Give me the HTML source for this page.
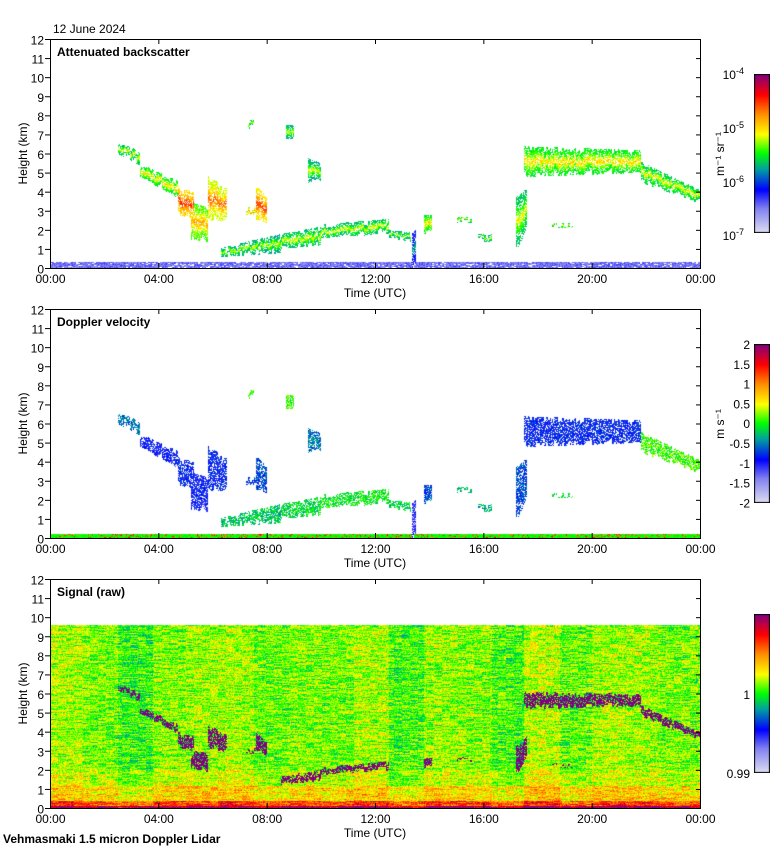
<!DOCTYPE html>
<html><head><meta charset="utf-8">
<style>
body{margin:0;background:#fff;}
#root{position:relative;width:780px;height:850px;background:#fff;font-family:"Liberation Sans",sans-serif;}
canvas{position:absolute;}
svg{position:absolute;left:0;top:0;}
text{font-family:"Liberation Sans",sans-serif;font-size:12px;fill:#000;}
</style></head>
<body>
<div id="root">
<canvas id="c1" width="650" height="229" style="left:50px;top:39px"></canvas>
<canvas id="c2" width="650" height="229" style="left:50px;top:309px"></canvas>
<canvas id="c3" width="650" height="229" style="left:50px;top:579px"></canvas>
<canvas id="cb1" width="16" height="159" style="left:754px;top:74px"></canvas>
<canvas id="cb2" width="16" height="159" style="left:754px;top:344px"></canvas>
<canvas id="cb3" width="16" height="159" style="left:754px;top:614px"></canvas>
<svg id="ax" width="780" height="850"></svg>
</div>
<script>
// ---- data ----
const timeTicks=["00:00","04:00","08:00","12:00","16:00","20:00","00:00"];
const heightTicks=[0,1,2,3,4,5,6,7,8,9,10,11,12];
const cloudT0=[2.5,3.3,4.7,5.2,5.8,7.2,7.6,6.3,8.5,10,12.5,13.8,15,15.8,17.2,17.5,21.8,18.5,9.5,8.7,7.3,13.35];
const cloudT1=[3.3,4.7,5.3,5.8,6.5,7.6,8.0,8.5,10,12.5,13.3,14.1,15.6,16.3,17.6,21.8,24,19.3,10.0,9.0,7.5,13.5];
const cloudBase0=[6.0,4.8,2.8,1.5,2.5,2.8,2.4,0.6,1.0,1.6,1.6,1.8,2.4,1.4,0.9,4.8,4.5,2.1,4.5,6.8,7.3,0];
const cloudTop0=[6.6,5.5,4.3,3.5,4.9,3.2,4.3,1.1,1.8,2.3,2.0,2.8,2.7,1.8,3.8,6.4,5.6,2.4,5.8,7.6,7.8,2.0];
const cloudBase1=[5.4,3.7,2.6,1.4,2.5,2.8,2.4,0.8,1.2,1.8,1.4,1.8,2.4,1.4,2.0,5.0,3.4,2.1,4.6,6.8,7.3,0];
const cloudTop1=[6.2,4.6,4.0,3.2,4.2,3.2,3.8,1.8,2.2,2.6,1.9,2.8,2.7,1.8,4.2,6.2,4.1,2.4,5.5,7.6,7.8,2.0];
const cloudBsc=[0.5,0.55,0.72,0.6,0.66,0.65,0.7,0.48,0.5,0.5,0.48,0.55,0.5,0.48,0.5,0.55,0.52,0.5,0.48,0.48,0.48,0.3];
const cloudVel=[-0.8,-1.3,-1.2,-1.3,-1.2,-1,-1,-0.4,-0.3,-0.2,-0.3,-1,-0.5,-0.5,-1,-1.2,0,-0.3,-0.8,0,0,-1.5];
const signalBlockStart=[0,1.2,2.5,3.8,5,6.2,7.5,8.8,10,11.2,12.5,13.8,15,16.3,17.5,18.8,20,21.2,22.5];
const signalBlockLevel=[0.03,0,-0.04,0.01,0.02,0.03,-0.01,0.01,0,0.03,-0.03,0.02,0.01,-0.03,0.04,-0.01,0.03,0.02,0];
const signalTopKm=9.6;
// ---- helpers ----
const W=650,H=229;
const xS=t=>t/24*W, yS=h=>H-h/12*H;
const stops=[[0,[220,220,240]],[0.15,[130,130,240]],[0.27,[0,0,255]],[0.4,[0,160,160]],[0.5,[0,255,0]],[0.62,[255,255,0]],[0.75,[255,140,0]],[0.87,[255,0,0]],[1,[128,0,128]]];
function cmap(v){v=Math.max(0,Math.min(1,v));for(let i=1;i<stops.length;i++){if(v<=stops[i][0]){const a=stops[i-1],b=stops[i],f=(v-a[0])/(b[0]-a[0]);return a[1].map((c,k)=>Math.round(c+(b[1][k]-c)*f));}}return stops[stops.length-1][1];}
function hsh(x,y){let n=(x*374761393+y*668265263)|0;n=(n^(n>>>13))*1274126177|0;return ((n^(n>>>16))>>>0)/4294967296;}
function inCloud(i,t,h,x){if(t<cloudT0[i]||t>cloudT1[i])return false;const f=(t-cloudT0[i])/((cloudT1[i]-cloudT0[i])||1);const j=(hsh(x>>1,i+7)-0.5)*0.5;const b=cloudBase0[i]+(cloudBase1[i]-cloudBase0[i])*f+Math.max(0,j);const tp=cloudTop0[i]+(cloudTop1[i]-cloudTop0[i])*f+Math.min(0,j);return h>=b&&h<=tp?(h-b)/((tp-b)||1):false;}
function render(id,fn){const c=document.getElementById(id),ctx=c.getContext('2d'),im=ctx.createImageData(W,H);for(let y=0;y<H;y++)for(let x=0;x<W;x++){const t=x/W*24,h=(H-y)/H*12;const col=fn(t,h,x,y);if(col){const o=(y*W+x)*4;im.data[o]=col[0];im.data[o+1]=col[1];im.data[o+2]=col[2];im.data[o+3]=255;}}ctx.putImageData(im,0,0);}
function cloudAt(t,h,x){for(let i=0;i<cloudT0.length;i++){const r=inCloud(i,t,h,x);if(r!==false)return [i,r];}return null;}
// panel 1
render('c1',(t,h,x,y)=>{const c=cloudAt(t,h,x);if(c){const n=hsh(x,y);if(n<0.25)return null;const core=1-Math.abs(c[1]-0.5)*2;return cmap(cloudBsc[c[0]]-0.08+core*core*0.2+(n-0.5)*0.1);}if(h<0.35&&hsh(x>>1,y)<0.9)return cmap(0.1+hsh(x,y)*0.12);return null;});
// panel 2
render('c2',(t,h,x,y)=>{const c=cloudAt(t,h,x);if(c){const n=hsh(x,y);if(n<0.25)return null;return cmap((cloudVel[c[0]]+2)/4*0.8+0.1+(n-0.5)*0.2);}if(h<0.25){const n=hsh(x,y);return cmap(n<0.8?0.48+n*0.05:n*0.9);}return null;});
// panel 3
render('c3',(t,h,x,y)=>{const c=cloudAt(t,h,x);
 if(c&&c[0]!==21&&c[1]>0.3&&c[1]<0.8&&hsh(x,y)>0.25&&(cloudBsc[c[0]]>=0.5||c[0]===15||c[0]===16))return [128,0,128];
 if(h>signalTopKm)return null;let bl=0;for(let i=0;i<signalBlockStart.length;i++)if(t>=signalBlockStart[i])bl=signalBlockLevel[i];
 let base=0.55;if(h<0.15)base=0.95;else if(h<0.4)base=0.8;else if(h<1.2)base=0.66;else if(h<2)base=0.59;
 const n=hsh(x>>3,y)*0.5+hsh(x,y)*0.5;return cmap(base+bl+(n-0.5)*0.3);});
// colorbars
function bar(id,f){const c=document.getElementById(id),ctx=c.getContext('2d');for(let y=0;y<159;y++){const col=cmap(f(1-y/158));ctx.fillStyle=`rgb(${col})`;ctx.fillRect(0,y,16,1);}ctx.strokeStyle='#000';ctx.strokeRect(0.5,0.5,15,158);}
bar('cb1',v=>v);bar('cb2',v=>v);bar('cb3',v=>v);
// axes
const svg=document.getElementById('ax');const NS='http://www.w3.org/2000/svg';
function el(tag,attrs,txt){const e=document.createElementNS(NS,tag);for(const k in attrs)e.setAttribute(k,attrs[k]);if(txt!==undefined)e.textContent=txt;svg.appendChild(e);return e;}
const panels=[{top:39,title:"Attenuated backscatter"},{top:309,title:"Doppler velocity"},{top:579,title:"Signal (raw)"}];
panels.forEach((p,pi)=>{
 const f=el('rect',{x:50.5,y:p.top+0.5,width:W,height:H,fill:'none',stroke:'#000'});
 
 heightTicks.forEach(hv=>{const y=p.top+yS(hv)+0.5;el('line',{x1:45,x2:50,y1:y,y2:y,stroke:'#000'});el('line',{x1:700,x2:696,y1:y,y2:y,stroke:'#000'});
  const t=el('text',{x:44,y:y+5,'text-anchor':'end','font-size':'13'},hv);});
 timeTicks.forEach((tl,i)=>{const x=50.5+xS(i*4);el('line',{x1:x,x2:x,y1:p.top+H,y2:p.top+H-5,stroke:'#000'});el('line',{x1:x,x2:x,y1:p.top,y2:p.top+5,stroke:'#000'});
  const t=el('text',{x:x,y:p.top+H+15,'text-anchor':'middle','font-size':'13'},tl);});
 const xt=el('text',{x:375,y:p.top+H+29,'text-anchor':'middle'},'Time (UTC)');
 const yt=el('text',{x:0,y:0,'text-anchor':'middle','font-size':'13',transform:`translate(27,${p.top+H/2}) rotate(-90)`},'Height (km)');
 const tt=el('text',{x:57,y:p.top+17,'font-weight':'bold','font-size':'13'},p.title);
});
function cbl(x,y,txt,sup){const t=el('text',{x:x,y:y,'text-anchor':'end'},txt);if(sup){const s=document.createElementNS(NS,'tspan');s.setAttribute('dy','-5');s.setAttribute('font-size','9');s.textContent=sup;t.appendChild(s);}}
cbl(744,79,'10','-4');cbl(744,133,'10','-5');cbl(744,187,'10','-6');cbl(744,240,'10','-7');
const v=['2','1.5','1','0.5','0','-0.5','-1','-1.5','-2'];v.forEach((s,i)=>cbl(750,349+i*19.8,s));
cbl(750,699,'1');cbl(750,778,'0.99');
const u1=el('text',{x:0,y:0,'text-anchor':'middle',transform:'translate(724,154) rotate(-90)'},'m⁻¹ sr⁻¹');
const u2=el('text',{x:0,y:0,'text-anchor':'middle',transform:'translate(724,424) rotate(-90)'},'m s⁻¹');
const d=el('text',{x:53,y:33},'12 June 2024');
const ft=el('text',{x:3,y:843,'font-weight':'bold'},'Vehmasmaki 1.5 micron Doppler Lidar');
</script>
</body></html>
